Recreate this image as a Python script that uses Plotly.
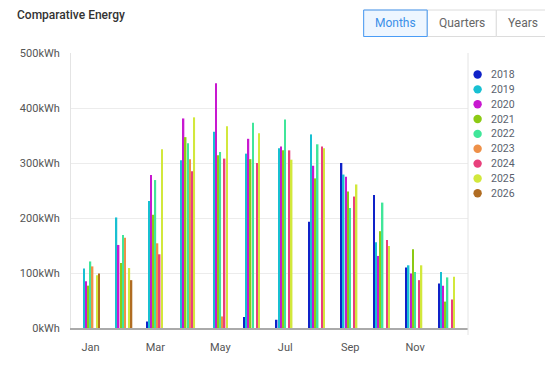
import plotly.graph_objects as go

months = ["Jan", "Feb", "Mar", "Apr", "May", "Jun", "Jul", "Aug", "Sep", "Oct", "Nov", "Dec"]
years = ["2018", "2019", "2020", "2021", "2022", "2023", "2024", "2025", "2026"]

# values in thousands of kWh
v2018 = [None, None, 12, None, None, 20, 15, 193, 300, 242, 110, 81]
v2019 = [108, 201, 231, 305, 357, 317, 327, 352, 279, 156, 114, 102]
v2020 = [85, 151, 278, 381, 445, 344, 330, 295, 275, 131, 99, 77]
v2021 = [77, 118, 206, 347, 314, 307, 323, 272, 248, 176, 143, 48]
v2022 = [121, 169, 269, 336, 320, 373, 379, 334, 218, 228, 102, 92]
v2023 = [112, 164, 154, 307, 21, None, None, None, None, None, None, None]
v2024 = [None, None, 134, 285, 308, 300, 323, 330, 239, 160, 87, 52]
v2025 = [96, 109, 325, 383, 367, 354, 306, 327, 261, 149, 114, 93]
v2026 = [99, 87, None, None, None, None, None, None, None, None, None, None]
series = [v2018, v2019, v2020, v2021, v2022, v2023, v2024, v2025, v2026]

colors = ["#0f22c8", "#18c0d2", "#c818d0", "#8cca14", "#40e69a",
          "#ee9048", "#e8407c", "#d2e83c", "#b06c22"]

y_ticks = [0, 100, 200, 300, 400, 500]
y_ticktext = [f"{v}kWh" for v in y_ticks]
buttons = ["Months", "Quarters", "Years"]

# page body has an 8px margin, so the figure is shrunk and all
# window-pixel targets below are shifted by OFF
OFF = 8
W, H = 553 - OFF, 366 - OFF
ML, MR, MT, MB = 59, 85, 45, 38
PW = W - ML - MR
PH = H - MT - MB


def px(x):
    return (x - OFF - ML) / PW


def py(y):
    return (H - MB - (y - OFF)) / PH


fig = go.Figure()
for name, vals, c in zip(years, series, colors):
    fig.add_trace(go.Bar(x=months, y=vals, name=name, marker_color=c,
                         marker_line_width=0, showlegend=False))

shapes = []
annotations = []

# right border line of the plot area
shapes.append(dict(type="line", xref="paper", yref="paper", x0=1, x1=1,
                   y0=py(335), y1=1, line=dict(color="#e4e4e4", width=1)))

# title
annotations.append(dict(text="Comparative Energy", xref="paper", yref="paper",
                        x=px(10), y=py(15.5), xanchor="left", yanchor="middle",
                        showarrow=False,
                        font=dict(size=12, color="#333333", family="Roboto", weight=500)))

# buttons
btn_edges = [362.6, 426.8, 496.6, 550]
for i, b in enumerate(buttons):
    x0, x1 = btn_edges[i], btn_edges[i + 1]
    active = i == 0
    shapes.append(dict(type="rect", xref="paper", yref="paper",
                       x0=px(x0), x1=px(x1), y0=py(36.5), y1=py(10),
                       fillcolor="#eef6ff" if active else "white",
                       line=dict(color="#dcdcdc", width=1), layer="above"))
for i, b in enumerate(buttons):
    x0, x1 = btn_edges[i], btn_edges[i + 1]
    active = i == 0
    if active:
        shapes.append(dict(type="rect", xref="paper", yref="paper",
                           x0=px(x0), x1=px(x1), y0=py(36.5), y1=py(10),
                           fillcolor="rgba(0,0,0,0)",
                           line=dict(color="#4a9cf6", width=1), layer="above"))
    annotations.append(dict(text=b, xref="paper", yref="paper",
                            x=px((x0 + x1) / 2), y=py(23.3), xanchor="center",
                            yanchor="middle", showarrow=False,
                            font=dict(size=12, color="#3b8fe8" if active else "#666666",
                                      family="Roboto")))

# legend
for i, (name, c) in enumerate(zip(years, colors)):
    yc = 74.5 + i * 14.85
    shapes.append(dict(type="circle", xref="paper", yref="paper",
                       xsizemode="pixel", ysizemode="pixel",
                       xanchor=px(477.7), yanchor=py(yc),
                       x0=-4.2, x1=4.2, y0=-4.2, y1=4.2,
                       fillcolor=c, line=dict(width=0)))
    annotations.append(dict(text=name, xref="paper", yref="paper",
                            x=px(489), y=py(yc), xanchor="left", yanchor="middle",
                            showarrow=False,
                            font=dict(size=10.5, color="#5a5f6e", family="Roboto")))

fig.update_layout(
    width=W, height=H,
    margin=dict(l=ML, r=MR, t=MT, b=MB, pad=0),
    barmode="group", bargap=0.404, bargroupgap=0.3,
    plot_bgcolor="white", paper_bgcolor="white",
    font=dict(family="Roboto", size=11, color="#555555"),
    shapes=shapes, annotations=annotations,
    xaxis=dict(type="category", range=[-0.6, 11.63],
               tickmode="array", tickvals=months[::2], ticktext=months[::2],
               ticks="outside", ticklen=8, tickcolor="rgba(0,0,0,0)",
               showline=True, linecolor="#aaaaaa", linewidth=2,
               showgrid=False, zeroline=False, fixedrange=True),
    yaxis=dict(range=[0, 500], tickmode="array", tickvals=y_ticks,
               ticktext=y_ticktext, ticks="outside", ticklen=8,
               tickcolor="rgba(0,0,0,0)",
               showgrid=True, gridcolor="#ececec", gridwidth=1,
               showline=True, linecolor="#e4e4e4", linewidth=1,
               zeroline=False, fixedrange=True),
)

fig.write_html("out.html")
